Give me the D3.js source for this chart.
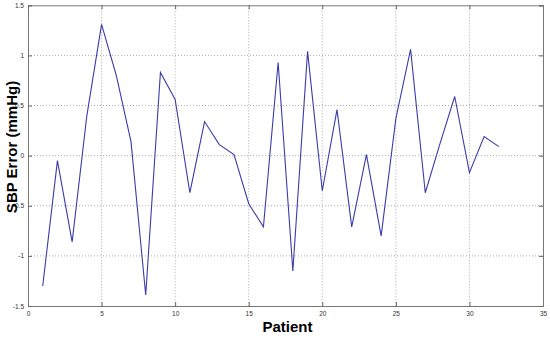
<!DOCTYPE html>
<html><head><meta charset="utf-8">
<script src="https://cdn.jsdelivr.net/npm/d3@7"></script>
<style>body{margin:0;background:#fff}svg{display:block}</style>
</head><body>
<svg id="c" width="550" height="337"></svg>
<script>
const patients = d3.range(1, 33);
const sbpError = [-1.30, -0.05, -0.86, 0.40, 1.31, 0.80, 0.14, -1.39, 0.83, 0.56,
  -0.37, 0.34, 0.11, 0.01, -0.48, -0.71, 0.93, -1.15, 1.04, -0.35,
  0.46, -0.71, 0.01, -0.80, 0.37, 1.06, -0.37, 0.12, 0.59, -0.17,
  0.19, 0.09];
const xTicks = [0, 5, 10, 15, 20, 25, 30, 35];
const yTicks = [-1.5, -1, -0.5, 0, 0.5, 1, 1.5];
const xLabel = "Patient";
const yLabel = "SBP Error (mmHg)";

const svg = d3.select("#c");
const L = 28, R = 543, T = 5.3, B = 306;
const x = d3.scaleLinear().domain([0, 35]).range([L, R]);
const y = d3.scaleLinear().domain([-1.5, 1.5]).range([B, T]);

// grid
const g = svg.append("g");
g.selectAll(".gx").data(xTicks.slice(1, -1)).join("line")
  .attr("x1", d => x(d)).attr("x2", d => x(d)).attr("y1", T).attr("y2", B)
  .attr("stroke", "#aaa").attr("stroke-width", 1).attr("stroke-dasharray", "1,2");
g.selectAll(".gy").data(yTicks.slice(1, -1)).join("line")
  .attr("y1", d => y(d)).attr("y2", d => y(d)).attr("x1", L).attr("x2", R)
  .attr("stroke", "#aaa").attr("stroke-width", 1).attr("stroke-dasharray", "1,2");

// axes
const fmt = d => String(d);
const xAxis = svg.append("g").attr("transform", `translate(0,${B})`)
  .call(d3.axisBottom(x).tickValues(xTicks).tickSize(-4).tickPadding(5).tickFormat(fmt));
const yAxis = svg.append("g").attr("transform", `translate(${L},0)`)
  .call(d3.axisLeft(y).tickValues(yTicks).tickSize(-4).tickPadding(4).tickFormat(fmt));
const xTop = svg.append("g").attr("transform", `translate(0,${T})`)
  .call(d3.axisTop(x).tickValues(xTicks).tickSize(-4).tickFormat(""));
const yRight = svg.append("g").attr("transform", `translate(${R},0)`)
  .call(d3.axisRight(y).tickValues(yTicks).tickSize(-4).tickFormat(""));
[xAxis, yAxis, xTop, yRight].forEach(a => {
  a.select(".domain").attr("stroke", "#777");
  a.selectAll(".tick line").attr("stroke", "#666");
  a.selectAll("text").attr("font-family", "Liberation Sans, Arial, sans-serif")
    .attr("font-size", 6.5).attr("fill", "#333");
});

// line
svg.append("path").datum(patients.map((p, i) => [p, sbpError[i]]))
  .attr("fill", "none").attr("stroke", "#3b3bab").attr("stroke-width", 1.1)
  .attr("d", d3.line().x(d => x(d[0])).y(d => y(d[1])));

// labels
svg.append("text").attr("x", (L + R) / 2 + 2).attr("y", 332)
  .attr("text-anchor", "middle").attr("font-family", "Liberation Sans, Arial, sans-serif")
  .attr("font-weight", "bold").attr("font-size", 15).attr("fill", "#000").text(xLabel);
svg.append("text").attr("transform", `translate(17,147) rotate(-90)`)
  .attr("text-anchor", "middle").attr("font-family", "Liberation Sans, Arial, sans-serif")
  .attr("font-weight", "bold").attr("font-size", 15).attr("fill", "#000").text(yLabel);
</script>
</body></html>
